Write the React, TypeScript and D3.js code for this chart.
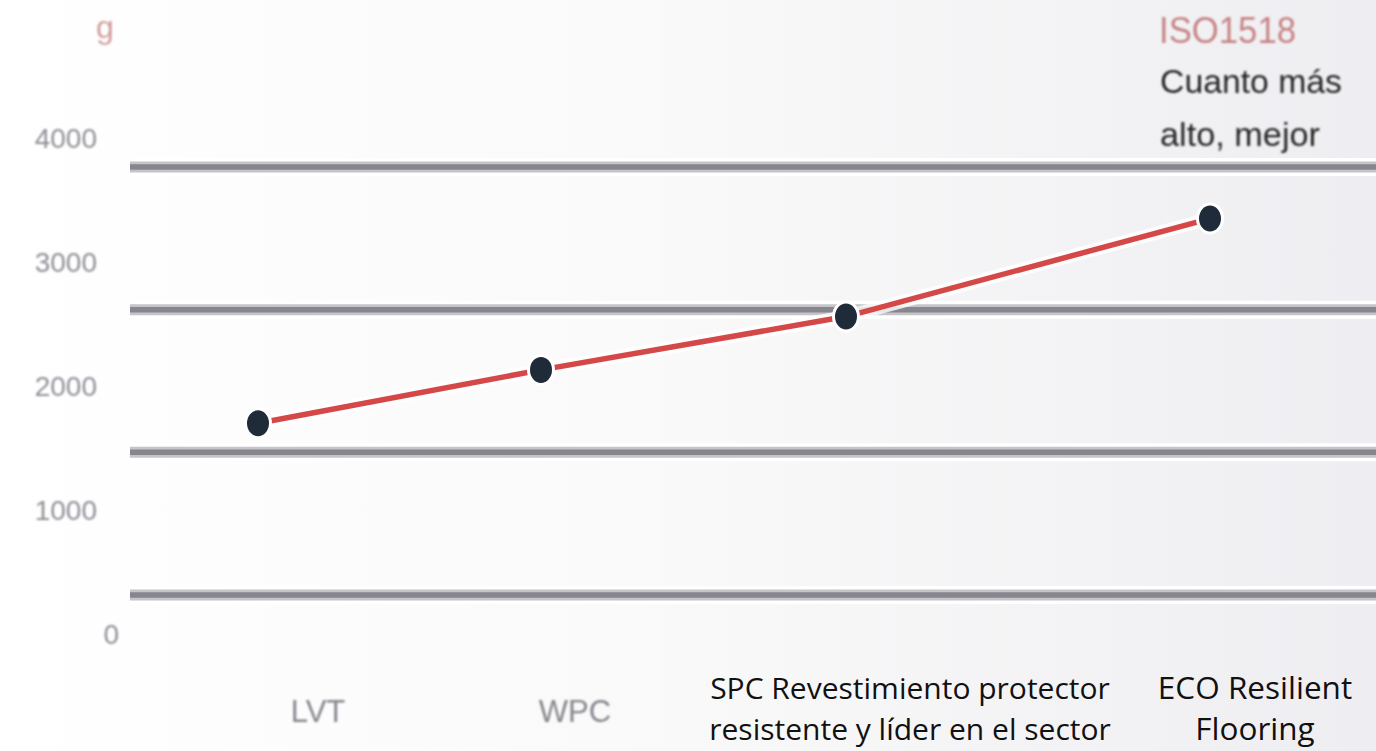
import * as d3 from 'd3';

const W = 1376;
const H = 751;

// data
const categories = ['LVT', 'WPC', 'SPC', 'ECO'];
const categoryLabels = [
  ['LVT'],
  ['WPC'],
  ['SPC Revestimiento protector', 'resistente y líder en el sector'],
  ['ECO Resilient', 'Flooring'],
];
const values = [1700, 2130, 2560, 3350];
const yTicks = [0, 1000, 2000, 3000, 4000];
const gridLines = [0, 1, 2, 3];
const unitLabel = 'g';
const noteTitle = 'ISO1518';
const noteLines = ['Cuanto más', 'alto, mejor'];

export default function App() {
  const y = d3.scaleLinear().domain([0, 4000]).range([634, 138]);
  const gridY = d3.scaleLinear().domain([0, 3]).range([595, 167]);
  const xDot = d3.scaleOrdinal<string, number>().domain(categories).range([258, 541, 846, 1210]);
  const xLabel = d3.scaleOrdinal<string, number>().domain(categories).range([318, 575, 910, 1255]);
  const labelSize = [31, 31, 30, 31.5];

  const line = d3
    .line<number>()
    .x((_, i) => xDot(categories[i]))
    .y((d) => y(d));

  const path = line(values) ?? '';

  return (
    <svg width={W} height={H} style={{ position: 'absolute', left: 0, top: 0 }}>
      <defs>
        <linearGradient id="bg" x1="0" x2="1" y1="0" y2="0">
          <stop offset="0" stopColor="#ffffff" />
          <stop offset="0.5" stopColor="#f9f9f9" />
          <stop offset="1" stopColor="#eeeef2" />
        </linearGradient>
        <filter id="soft" x="-10%" y="-30%" width="120%" height="160%">
          <feGaussianBlur stdDeviation="0.9" />
        </filter>
      </defs>
      <rect width={W} height={H} fill="url(#bg)" />

      {/* grid lines */}
      {gridLines.map((g) => (
        <g key={g}>
          <line x1={130} x2={W} y1={gridY(g)} y2={gridY(g)} stroke="#ffffff" strokeWidth={18} />
          <line x1={130} x2={W} y1={gridY(g)} y2={gridY(g)} stroke="#c4c4c9" strokeWidth={11} />
          <line x1={130} x2={W} y1={gridY(g)} y2={gridY(g)} stroke="#86868e" strokeWidth={5.5} />
        </g>
      ))}

      {/* y tick labels */}
      <g fontFamily="Liberation Sans, Arial, sans-serif" fontSize={28} fill="#8f8f97" filter="url(#soft)">
        {yTicks.map((t) => (
          <text key={t} x={t === 0 ? 119 : 97} y={y(t)} dy="0.36em" textAnchor="end">
            {t}
          </text>
        ))}
        <text x={105} y={38} textAnchor="middle" fill="#d49c9c" fontSize={32}>
          {unitLabel}
        </text>
      </g>

      {/* note */}
      <g fontFamily="Liberation Sans, Arial, sans-serif" filter="url(#soft)">
        <text x={1159} y={43} fontSize={37} fill="#c78484" textLength={137} lengthAdjust="spacingAndGlyphs">
          {noteTitle}
        </text>
        {noteLines.map((l, i) => (
          <text
            key={l}
            x={1160}
            y={93 + i * 53}
            fontSize={34}
            fill="#262626"
            textLength={i === 0 ? 182 : 160}
            lengthAdjust="spacingAndGlyphs"
          >
            {l}
          </text>
        ))}
      </g>

      {/* series */}
      <path d={path} fill="none" stroke="#ffffff" strokeWidth={13} strokeOpacity={0.8} />
      <path d={path} fill="none" stroke="#d44848" strokeWidth={5.5} />
      {values.map((v, i) => (
        <ellipse
          key={categories[i]}
          cx={xDot(categories[i])}
          cy={y(v)}
          rx={12.5}
          ry={14.5}
          fill="#1f2b39"
          stroke="#ffffff"
          strokeWidth={3}
        />
      ))}

      {/* x labels */}
      {categoryLabels.map((lines, i) => {
        const plain = i < 2;
        return (
          <text
            key={categories[i]}
            x={xLabel(categories[i])}
            y={plain ? 722 : 699}
            textAnchor="middle"
            fontFamily={plain ? 'Liberation Sans, Arial, sans-serif' : 'Open Sans, sans-serif'}
            fontSize={labelSize[i]}
            fill={plain ? '#85858d' : '#111111'}
            filter={plain ? 'url(#soft)' : undefined}
          >
            {lines.map((l, j) => (
              <tspan key={l} x={xLabel(categories[i])} dy={j === 0 ? 0 : 41}>
                {l}
              </tspan>
            ))}
          </text>
        );
      })}
    </svg>
  );
}
